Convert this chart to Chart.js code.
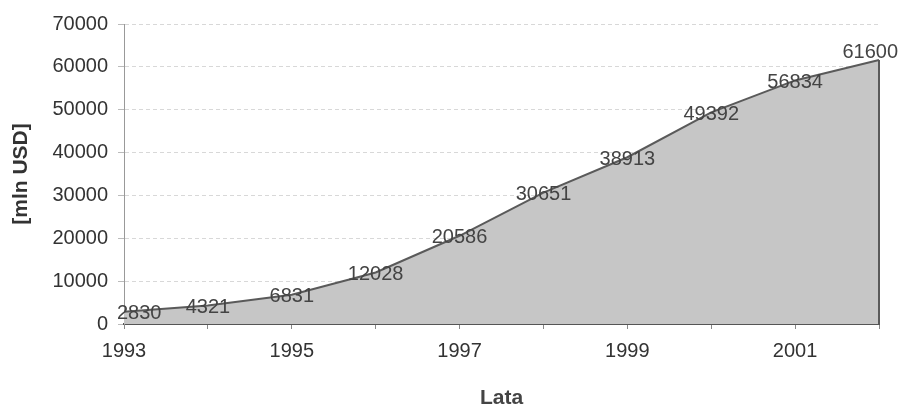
<!DOCTYPE html>
<html>
<head>
<meta charset="utf-8">
<script src="https://cdn.jsdelivr.net/npm/chart.js@4"></script>
<style>
html,body{margin:0;padding:0;background:#fff;}
#wrap{width:900px;height:411px;position:relative;}
</style>
</head>
<body>
<div id="wrap"><canvas id="c" width="900" height="411"></canvas></div>
<script>
const years = ['1993','1994','1995','1996','1997','1998','1999','2000','2001','2002'];
const values = [2830, 4321, 6831, 12028, 20586, 30651, 38913, 49392, 56834, 61600];
const yTicks = [0, 10000, 20000, 30000, 40000, 50000, 60000, 70000];
const yTitle = '[mln USD]';
const xTitle = 'Lata';

const FONT = '"Liberation Sans", Arial, sans-serif';

const labelPlugin = {
  id: 'labels',
  afterDatasetsDraw(chart) {
    const ctx = chart.ctx;
    const meta = chart.getDatasetMeta(0);
    const ys = chart.scales.y;
    const last = meta.data[meta.data.length - 1];
    ctx.save();
    ctx.strokeStyle = '#5a5a5a';
    ctx.lineWidth = 2;
    ctx.beginPath();
    ctx.moveTo(last.x, last.y);
    ctx.lineTo(last.x, ys.getPixelForValue(0));
    ctx.stroke();
    ctx.font = '20px ' + FONT;
    ctx.fillStyle = '#444';
    ctx.textBaseline = 'middle';
    ctx.textAlign = 'left';
    meta.data.forEach((p, i) => {
      const t = String(values[i]);
      const w = ctx.measureText(t).width;
      let x = p.x - w / 2;
      if (x < 117) x = 117;
      if (x + w > 898) x = 898 - w;
      let y = p.y + 2;
      if (i === values.length - 1) y = p.y - 8;
      ctx.fillText(t, x, y);
    });
    ctx.restore();
  }
};

new Chart(document.getElementById('c'), {
  type: 'line',
  data: {
    labels: years,
    datasets: [{
      data: values,
      fill: 'origin',
      backgroundColor: '#c6c6c6',
      borderColor: '#5a5a5a',
      borderWidth: 2,
      pointRadius: 0,
      tension: 0
    }]
  },
  options: {
    responsive: false,
    animation: false,
    devicePixelRatio: 1,
    layout: { padding: { top: 24, right: 21, left: 0, bottom: 0 } },
    plugins: { legend: { display: false }, tooltip: { enabled: false } },
    scales: {
      x: {
        type: 'category',
        offset: false,
        grid: { display: true, drawOnChartArea: false, drawTicks: true, tickLength: 5, color: '#888' },
        border: { display: true, color: '#555', width: 2 },
        ticks: {
          autoSkip: false,
          maxRotation: 0,
          padding: 10,
          color: '#333',
          font: { family: FONT, size: 20 },
          callback: function(v, i) { return i % 2 === 0 ? years[i] : ''; }
        },
        title: {
          display: true, text: xTitle, color: '#444',
          font: { family: FONT, size: 21, weight: 'bold' },
          padding: { top: 0, bottom: 0 }
        },
        afterFit(s) { s.height = 87; }
      },
      y: {
        min: 0, max: 70000,
        afterBuildTicks(s) { s.ticks = yTicks.map(v => ({ value: v })); },
        grid: { color: '#d8d8d8', tickLength: 6, tickColor: '#bbb', lineWidth: 1 },
        border: { display: true, color: '#999', dash: [4, 3] },
        ticks: {
          padding: 10,
          color: '#333',
          font: { family: FONT, size: 20 },
          callback: function(v) { return String(v); }
        },
        title: {
          display: true, text: yTitle, color: '#333',
          font: { family: FONT, size: 21, weight: 'bold' },
          padding: { top: 9, bottom: 0 }
        },
        afterFit(s) { s.width = 124; }
      }
    }
  },
  plugins: [labelPlugin]
});
</script>
</body>
</html>
